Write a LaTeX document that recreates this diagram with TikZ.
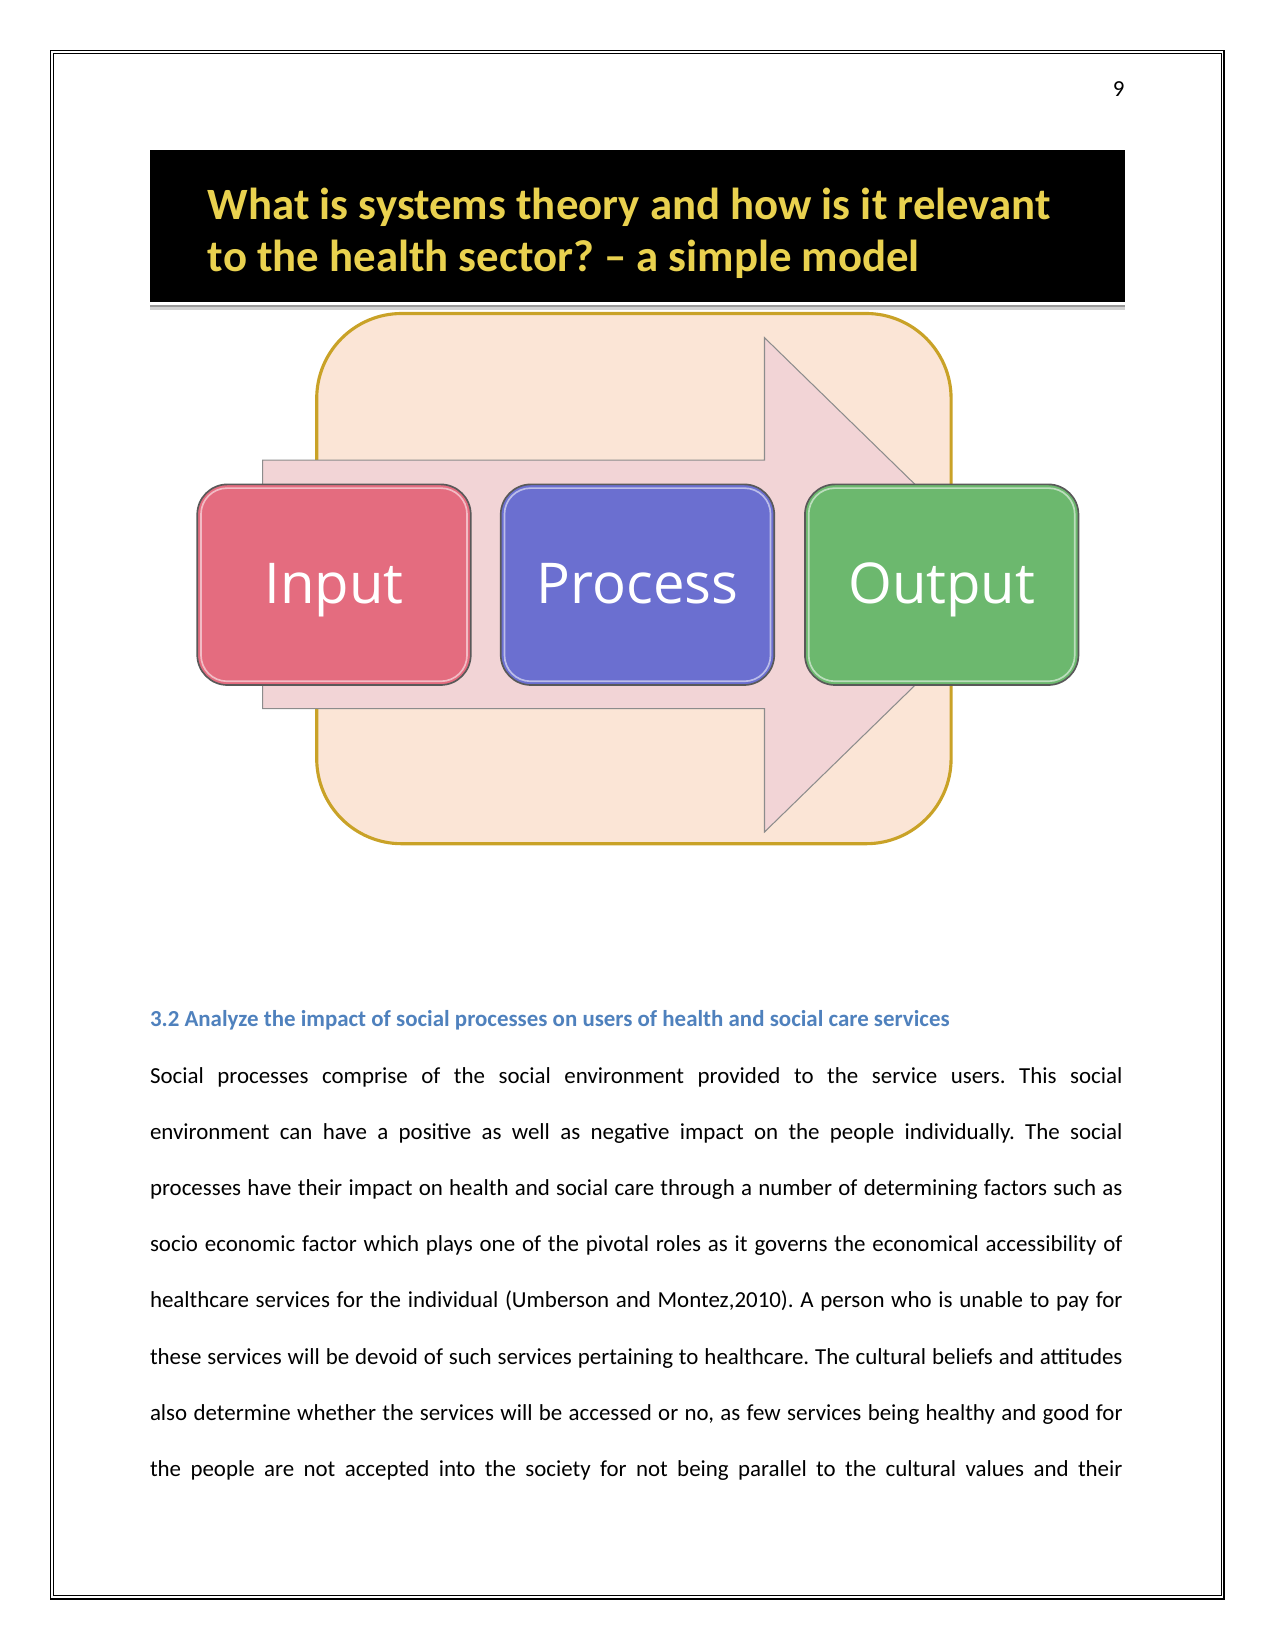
\documentclass[tikz,border=0pt]{standalone}
\usepackage{fontspec}
\setmainfont{Carlito}
\newfontfamily\boxfont{Open Sans}
\usetikzlibrary{positioning}
\definecolor{bannerfg}{HTML}{E9D14F}
\definecolor{envfill}{HTML}{FBE5D6}
\definecolor{envdraw}{HTML}{C9A227}
\definecolor{arrowfill}{HTML}{F2D4D6}
\definecolor{inputc}{HTML}{E46C7F}
\definecolor{processc}{HTML}{6B6FD0}
\definecolor{outputc}{HTML}{6CB86E}
\definecolor{headc}{HTML}{4F81BD}
\newlength{\linew}
\setlength{\linew}{466.8pt}
\frenchspacing
\tikzset{
  procbox/.style={draw=black!65, line width=0.8pt, rounded corners=14.5pt,
    minimum width=131.3pt, minimum height=96.3pt, text=white,
    text height=18pt, text depth=0pt,
    font=\boxfont\fontsize{27}{30}\selectfont, inner sep=0pt},
  bodyline/.style={anchor=base west, inner sep=0pt, font=\fontsize{11}{13}\selectfont},
  bannertext/.style={anchor=base west, inner sep=0pt, text=bannerfg, font=\fontsize{21.5}{25}\selectfont\bfseries},
}
\begin{document}
\begin{tikzpicture}[x=0.48pt, y=-0.48pt]
\useasboundingbox (0,0) rectangle (1275,1650);
% page border (double)
\draw[line width=0.75pt] (50.5,50.5) rectangle (1224,1598.7);
\draw[line width=0.45pt] (53.5,53.5) rectangle (1221.2,1595.9);
% page number
\node[anchor=base east, inner sep=0pt, font=\fontsize{11}{13}\selectfont] (pnum) at (1125,97) {9};
% banner
\fill[black] (150,150) rectangle (1125,301.7);
\fill[black!40] (150,305.5) rectangle (1125,307.5);
\fill[black!18] (150,307.5) rectangle (1125,310);
\node[bannertext] (t1) at (207.5,220) {What is systems theory and how is it relevant};
\node[bannertext] (t2) at (207.5,271.7) {to the health sector? – a simple model};
% environment
\node[draw=envdraw, fill=envfill, line width=1.5pt, rounded corners=40.8pt,
  minimum width=304.5pt, minimum height=254.5pt] (env) at (633.9,578.6) {};
% arrow
\draw[fill=arrowfill, draw=black!45, line width=0.5pt]
  (262.7,460.2) -- (764.5,460.2) -- (764.5,337.7) -- (1018,584.8) -- (764.5,832)
  -- (764.5,708.7) -- (262.7,708.7) -- cycle;
% boxes
\node[procbox, fill=inputc] (input) at (334,584.7) {Input};
\node[procbox, fill=processc] (process) at (637.5,584.7) {Process};
\node[procbox, fill=outputc] (output) at (941.7,584.7) {Output};
\foreach \n in {input,process,output}{
  \draw[white, opacity=0.55, line width=0.8pt, rounded corners=12.5pt]
    ([xshift=2.2pt,yshift=-2.2pt]\n.north west) rectangle ([xshift=-2.2pt,yshift=2.2pt]\n.south east);
}
% heading
\node[anchor=base west, inner sep=0pt, text=headc, font=\fontsize{11}{13}\selectfont\bfseries] (head) at (149.6,1026.7)
  {3.2 Analyze the impact of social processes on users of health and social care services};
% body
\node[bodyline] (l1) at (149.6,1083) {\makebox[\linew][s]{Social processes comprise of the social environment provided to the service users. This social}};
\node[bodyline] (l2) at (149.6,1139.2) {\makebox[\linew][s]{environment can have a positive as well as negative impact on the people individually. The social}};
\node[bodyline] (l3) at (149.6,1195.4) {\makebox[\linew][s]{processes have their impact on health and social care through a number of determining factors such as}};
\node[bodyline] (l4) at (149.6,1251.6) {\makebox[\linew][s]{socio economic factor which plays one of the pivotal roles as it governs the economical accessibility of}};
\node[bodyline] (l5) at (149.6,1307.8) {\makebox[\linew][s]{healthcare services for the individual (Umberson and Montez,2010). A person who is unable to pay for}};
\node[bodyline] (l6) at (149.6,1364) {\makebox[\linew][s]{these services will be devoid of such services pertaining to healthcare. The cultural beliefs and attitudes}};
\node[bodyline] (l7) at (149.6,1420.2) {\makebox[\linew][s]{also determine whether the services will be accessed or no, as few services being healthy and good for}};
\node[bodyline] (l8) at (149.6,1476.4) {\makebox[\linew][s]{the people are not accepted into the society for not being parallel to the cultural values and their}};
\end{tikzpicture}
\end{document}
